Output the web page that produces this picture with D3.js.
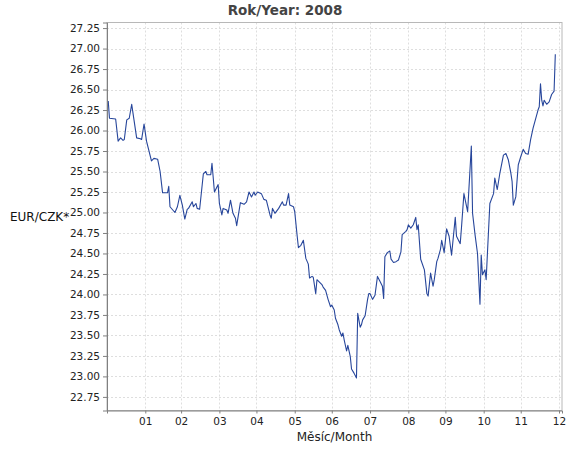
<!DOCTYPE html>
<html>
<head>
<meta charset="utf-8">
<script src="https://cdn.jsdelivr.net/npm/d3@7"></script>
<style>
  html, body { margin: 0; padding: 0; background: #fff; }
  svg { display: block; }
  text { font-family: "DejaVu Sans", sans-serif; }
</style>
</head>
<body>
<svg id="chart" width="570" height="450"></svg>
<script>
// ---- data ----
const titleText = "Rok/Year: 2008";
const yLabel = "EUR/CZK*";
const xLabel = "M\u011bs\u00edc/Month";

const dates = [
  "2008-01-02","2008-01-03","2008-01-08","2008-01-10","2008-01-12","2008-01-14","2008-01-15","2008-01-17","2008-01-19","2008-01-21",
  "2008-01-25","2008-01-28","2008-01-29","2008-01-31","2008-02-02","2008-02-06","2008-02-08","2008-02-11","2008-02-13","2008-02-15",
  "2008-02-19","2008-02-20","2008-02-21","2008-02-25","2008-02-27","2008-02-29","2008-03-02","2008-03-04","2008-03-06","2008-03-07",
  "2008-03-10","2008-03-11","2008-03-13","2008-03-14","2008-03-16","2008-03-19","2008-03-21","2008-03-22","2008-03-25","2008-03-26",
  "2008-03-28","2008-03-31","2008-04-01","2008-04-03","2008-04-04","2008-04-07","2008-04-08","2008-04-10","2008-04-12","2008-04-14",
  "2008-04-15","2008-04-18","2008-04-21","2008-04-23","2008-04-25","2008-04-27","2008-04-29","2008-04-30","2008-05-02","2008-05-05",
  "2008-05-07","2008-05-09","2008-05-12","2008-05-13","2008-05-14","2008-05-16","2008-05-19","2008-05-22","2008-05-23","2008-05-25",
  "2008-05-27","2008-05-28","2008-05-31","2008-06-01","2008-06-03","2008-06-04","2008-06-06","2008-06-08","2008-06-10","2008-06-12",
  "2008-06-13","2008-06-15","2008-06-16","2008-06-18","2008-06-19","2008-06-23","2008-06-24","2008-06-26","2008-06-28","2008-06-30",
  "2008-07-01","2008-07-03","2008-07-04","2008-07-06","2008-07-07","2008-07-09","2008-07-10","2008-07-11","2008-07-13","2008-07-14",
  "2008-07-16","2008-07-17","2008-07-19","2008-07-21","2008-07-22","2008-07-24","2008-07-25","2008-07-26","2008-07-28","2008-07-30",
  "2008-07-31","2008-08-01","2008-08-03","2008-08-05","2008-08-07","2008-08-09","2008-08-11","2008-08-12","2008-08-13","2008-08-15",
  "2008-08-17","2008-08-18","2008-08-20","2008-08-22","2008-08-24","2008-08-26","2008-08-27","2008-08-30","2008-08-31","2008-09-01",
  "2008-09-03","2008-09-05","2008-09-07","2008-09-08","2008-09-09","2008-09-11","2008-09-14","2008-09-16","2008-09-17","2008-09-19",
  "2008-09-21","2008-09-22","2008-09-24","2008-09-25","2008-09-27","2008-09-28","2008-09-30","2008-10-02","2008-10-04","2008-10-06",
  "2008-10-09","2008-10-10","2008-10-13","2008-10-14","2008-10-16","2008-10-19","2008-10-22","2008-10-23","2008-10-25","2008-10-27",
  "2008-10-29","2008-10-30","2008-10-31","2008-11-02","2008-11-03","2008-11-06","2008-11-09","2008-11-10","2008-11-12","2008-11-14",
  "2008-11-17","2008-11-19","2008-11-21","2008-11-23","2008-11-24","2008-11-25","2008-11-27","2008-11-29","2008-12-01","2008-12-03",
  "2008-12-05","2008-12-07","2008-12-09","2008-12-11","2008-12-13","2008-12-15","2008-12-16","2008-12-17","2008-12-18","2008-12-19",
  "2008-12-20","2008-12-22","2008-12-24","2008-12-26","2008-12-28","2008-12-29"
];

const rates = [
  26.36,26.15,26.14,25.87,25.91,25.88,25.89,26.13,26.15,26.32,
  25.91,25.90,25.89,26.08,25.87,25.63,25.66,25.65,25.50,25.24,
  25.24,25.32,25.07,25.00,25.07,25.21,25.09,24.92,25.04,25.05,
  25.13,25.07,25.11,25.05,25.04,25.47,25.50,25.46,25.46,25.60,
  25.25,25.34,25.11,24.97,25.05,25.03,24.99,25.15,24.99,24.93,
  24.84,25.12,25.10,25.13,25.25,25.19,25.25,25.21,25.25,25.23,
  25.16,25.15,24.97,24.93,25.05,24.99,25.05,25.13,25.09,25.09,
  25.23,25.09,25.07,25.01,24.71,24.57,24.60,24.66,24.44,24.37,
  24.20,24.22,24.21,24.01,24.18,24.12,24.09,24.05,23.94,23.85,
  23.87,23.81,23.71,23.63,23.57,23.49,23.53,23.45,23.31,23.38,
  23.24,23.09,23.04,22.98,23.77,23.60,23.63,23.69,23.74,23.94,
  24.01,24.01,23.94,23.99,24.22,24.16,24.10,23.95,24.46,24.51,
  24.53,24.43,24.39,24.40,24.42,24.52,24.73,24.77,24.79,24.85,
  24.81,24.85,24.94,24.79,24.85,24.43,24.30,24.01,23.98,24.26,
  24.10,24.18,24.40,24.44,24.55,24.66,24.51,24.80,24.71,24.48,
  24.94,24.71,24.62,24.81,25.23,25.01,25.81,24.99,24.73,24.50,
  23.88,24.48,24.24,24.30,24.18,25.11,25.23,25.42,25.28,25.47,
  25.70,25.72,25.64,25.48,25.38,25.09,25.19,25.58,25.68,25.77,
  25.72,25.71,25.89,26.03,26.14,26.25,26.29,26.57,26.37,26.30,
  26.37,26.32,26.35,26.44,26.48,26.93
];

const yTickValues = [22.75,23.00,23.25,23.50,23.75,24.00,24.25,24.50,24.75,25.00,25.25,25.50,25.75,26.00,26.25,26.50,26.75,27.00,27.25];
const xTickDates = ["2008-02-01","2008-03-01","2008-04-01","2008-05-01","2008-06-01","2008-07-01","2008-08-01","2008-09-01","2008-10-01","2008-11-01","2008-12-01","2009-01-01"];
const xTickLabels = ["01","02","03","04","05","06","07","08","09","10","11","12"];

// ---- layout ----
const plot = { left: 107, right: 562, top: 22.5, bottom: 410.5 };
const parse = d3.timeParse("%Y-%m-%d");
const series = dates.map((d, i) => ({ date: parse(d), value: rates[i] }));

const x = d3.scaleTime()
  .domain([new Date(2008, 0, 1), new Date(2009, 0, 3, 10)])
  .range([plot.left, plot.right]);
const y = d3.scaleLinear()
  .domain([22.584, 27.318])
  .range([plot.bottom, plot.top]);

const svg = d3.select("#chart");

// plot background
svg.append("rect")
  .attr("x", plot.left).attr("y", plot.top)
  .attr("width", plot.right - plot.left).attr("height", plot.bottom - plot.top)
  .attr("fill", "#fff");

// gridlines
const grid = svg.append("g").attr("stroke", "#d6d6d6").attr("stroke-width", 0.8).attr("stroke-dasharray", "2,2");
grid.selectAll("line.h").data(yTickValues).join("line")
  .attr("x1", plot.left).attr("x2", plot.right)
  .attr("y1", d => Math.round(y(d)) + 0.5).attr("y2", d => Math.round(y(d)) + 0.5);
const xTicks = xTickDates.map(parse);
grid.selectAll("line.v").data(xTicks).join("line")
  .attr("y1", plot.top).attr("y2", plot.bottom)
  .attr("x1", d => Math.round(x(d)) + 0.5).attr("x2", d => Math.round(x(d)) + 0.5);

// plot outline
svg.append("rect")
  .attr("x", plot.left).attr("y", plot.top)
  .attr("width", plot.right - plot.left).attr("height", plot.bottom - plot.top)
  .attr("fill", "none").attr("stroke", "#b8b8b8").attr("stroke-width", 1);

// series line
const line = d3.line().x(d => x(d.date)).y(d => y(d.value));
svg.append("path")
  .datum(series)
  .attr("d", line)
  .attr("fill", "none")
  .attr("stroke", "#27469b")
  .attr("stroke-width", 1.1)
  .attr("stroke-linejoin", "round");

// axes
const yAxis = d3.axisLeft(y).tickValues(yTickValues).tickFormat(d3.format(".2f")).tickSize(4).tickPadding(3);
const gy = svg.append("g").attr("transform", `translate(${plot.left},0)`).call(yAxis);
gy.select(".domain").attr("stroke", "#808080");
gy.selectAll(".tick line").attr("stroke", "#808080");
gy.selectAll(".tick text").attr("font-size", 10.5).attr("fill", "#222").attr("font-family", "DejaVu Sans, sans-serif");

const xAxis = d3.axisBottom(x).tickValues(xTicks).tickFormat((d, i) => xTickLabels[i]).tickSize(3).tickPadding(4);
const gx = svg.append("g").attr("transform", `translate(0,${plot.bottom})`).call(xAxis);
gx.select(".domain").attr("stroke", "#808080");
gx.selectAll(".tick line").attr("stroke", "#808080");
gx.selectAll(".tick text").attr("font-size", 10.5).attr("fill", "#222").attr("font-family", "DejaVu Sans, sans-serif");

// title & labels
svg.append("text")
  .attr("x", 285).attr("y", 15)
  .attr("text-anchor", "middle")
  .attr("font-size", 13.5).attr("font-weight", "bold").attr("fill", "#444")
  .text(titleText);

svg.append("text")
  .attr("x", (plot.left + plot.right) / 2).attr("y", 441)
  .attr("text-anchor", "middle")
  .attr("font-size", 12).attr("fill", "#222")
  .text(xLabel);

svg.append("text")
  .attr("x", 10).attr("y", 221)
  .attr("font-size", 12).attr("fill", "#111")
  .text(yLabel);
</script>
</body>
</html>
